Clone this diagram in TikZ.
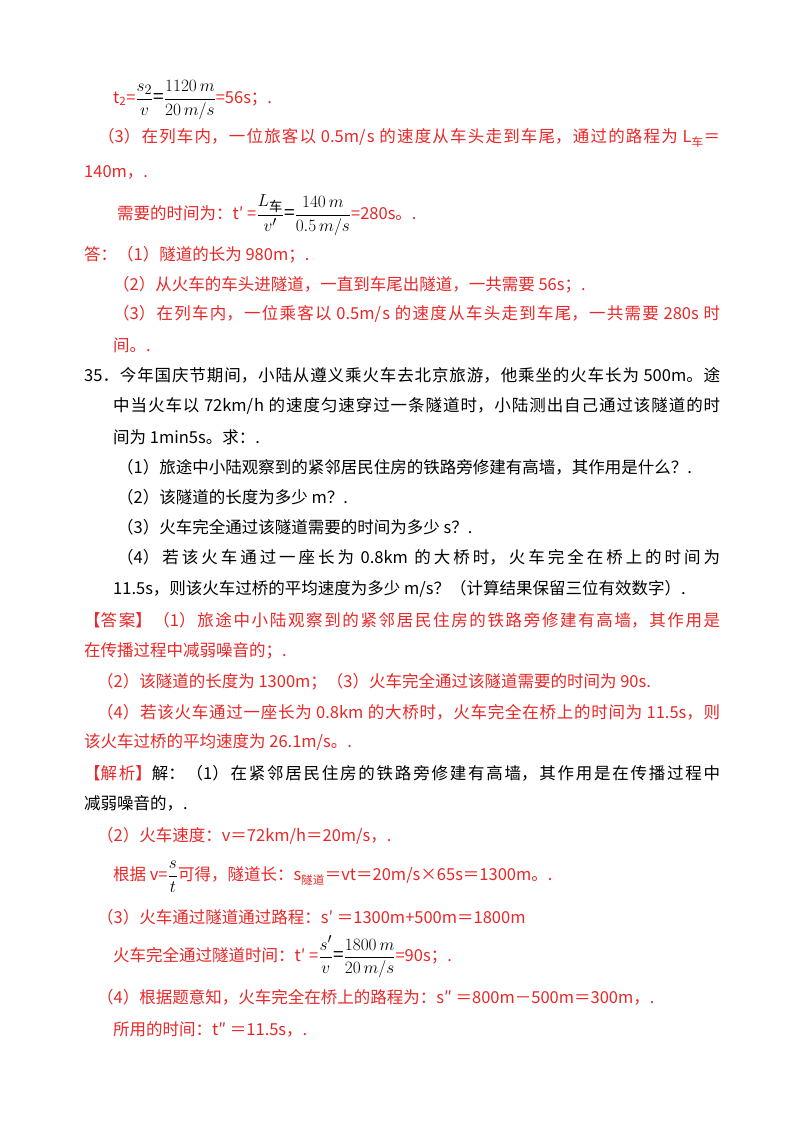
\documentclass[tikz,border=0pt]{standalone}
\usepackage{fontspec}
\setmainfont{Noto Sans CJK SC}
\XeTeXlinebreaklocale "zh"
\XeTeXlinebreakskip=0pt plus 2pt
\definecolor{ans}{RGB}{232,40,40}
\newcommand{\J}[2]{\parbox{#1}{\noindent\parfillskip=0pt\relax #2}}
\newcommand{\fr}[2]{\ensuremath{\dfrac{#1}{#2}}}
\newcommand{\bigf}[1]{{\fontsize{19}{22}\selectfont\textcolor{black}{#1}}}
\tikzset{ln/.style={anchor=west,inner sep=0pt,font=\fontsize{16.5}{20}\selectfont},
 red/.style={ln,text=ans}}
\usepackage{amsmath}
\begin{document}
\begin{tikzpicture}[x=1pt,y=1pt]
\useasboundingbox[fill=white] (0,0) rectangle (800,-1132);
\node[red] (a1) at (113,-100) {t\textsubscript{2}=\bigf{\fr{s_2}{v}=\fr{1120\,m}{20\,m/s}}=56s；.};
\node[red] (a2) at (98,-138) {\J{622pt}{（3）在列车内，一位旅客以 0.5m/s 的速度从车头走到车尾，通过的路程为 L\textsubscript{车}＝}};
\node[red] (a3) at (84,-172) {140m，.};
\node[red] (a4) at (117,-215) {需要的时间为：t′ =\bigf{\fr{L_{\text{车}}}{v'}=\fr{140\,m}{0.5\,m/s}}=280s。.};
\node[red] (a5) at (84,-255) {答：（1）隧道的长为 980m；.};
\node[red] (a6) at (113,-285) {（2）从火车的车头进隧道，一直到车尾出隧道，一共需要 56s；.};
\node[red] (a7) at (113,-314) {\J{607pt}{（3）在列车内，一位乘客以 0.5m/s 的速度从车头走到车尾，一共需要 280s 时}};
\node[red] (a8) at (113,-345) {间。.};
\node[ln] (q0) at (84,-375) {\J{636pt}{35．今年国庆节期间，小陆从遵义乘火车去北京旅游，他乘坐的火车长为 500m。途}};
\node[ln] (q1) at (113,-406) {\J{607pt}{中当火车以 72km/h 的速度匀速穿过一条隧道时，小陆测出自己通过该隧道的时}};
\node[ln] (q2) at (113,-437) {间为 1min5s。求：.};
\node[ln] (q3) at (117,-467) {（1）旅途中小陆观察到的紧邻居民住房的铁路旁修建有高墙，其作用是什么？.};
\node[ln] (q4) at (117,-497) {（2）该隧道的长度为多少 m？.};
\node[ln] (q5) at (117,-527) {（3）火车完全通过该隧道需要的时间为多少 s？.};
\node[ln] (q6) at (117,-557) {\J{603pt}{（4）若该火车通过一座长为 0.8km 的大桥时，火车完全在桥上的时间为}};
\node[ln] (q7) at (113,-589) {11.5s，则该火车过桥的平均速度为多少 m/s？（计算结果保留三位有效数字）.};
\node[red] (b1) at (84,-620) {\J{636pt}{【答案】（1）旅途中小陆观察到的紧邻居民住房的铁路旁修建有高墙，其作用是}};
\node[red] (b2) at (84,-651) {在传播过程中减弱噪音的；.};
\node[red] (b3) at (97,-682) {（2）该隧道的长度为 1300m；（3）火车完全通过该隧道需要的时间为 90s.};
\node[red] (b4) at (97,-712) {\J{623pt}{（4）若该火车通过一座长为 0.8km 的大桥时，火车完全在桥上的时间为 11.5s，则}};
\node[red] (b5) at (84,-742) {该火车过桥的平均速度为 26.1m/s。.};
\node[ln] (c1) at (84,-773) {\J{636pt}{\textcolor{ans}{【解析】}解：（1）在紧邻居民住房的铁路旁修建有高墙，其作用是在传播过程中}};
\node[ln] (c2) at (84,-803) {减弱噪音的，.};
\node[red] (c3) at (97,-836) {（2）火车速度：v＝72km/h＝20m/s，.};
\node[red] (c4) at (113,-877) {根据 v=\bigf{\fr{s}{t}}可得，隧道长：s\textsubscript{隧道}＝vt＝20m/s×65s＝1300m。.};
\node[red] (c5) at (97,-917) {（3）火车通过隧道通过路程：s′ ＝1300m+500m＝1800m};
\node[red] (c6) at (113,-957) {火车完全通过隧道时间：t′ =\bigf{\fr{s'}{v}=\fr{1800\,m}{20\,m/s}}=90s；.};
\node[red] (c7) at (97,-997) {（4）根据题意知，火车完全在桥上的路程为：s″ ＝800m－500m＝300m，.};
\node[red] (c8) at (113,-1029) {所用的时间：t″ ＝11.5s，.};
\end{tikzpicture}
\end{document}
